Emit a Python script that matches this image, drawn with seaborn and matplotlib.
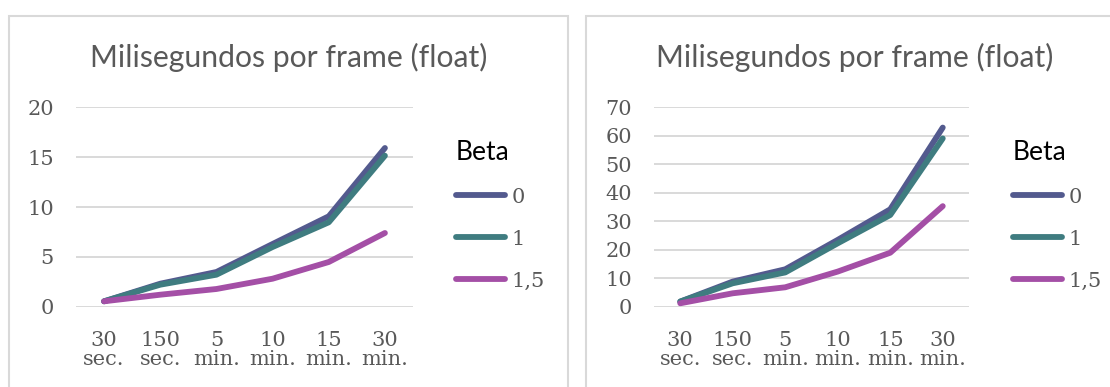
import matplotlib
matplotlib.use("Agg")
import matplotlib.pyplot as plt
from matplotlib.patches import Rectangle
from matplotlib.lines import Line2D
import seaborn as sns
import pandas as pd

# Categories along the x axis (recording length)
durations = ["30\nsec.", "150\nsec.", "5\nmin.", "10\nmin.", "15\nmin.", "30\nmin."]
beta_levels = ["0", "1", "1,5"]

# Milliseconds per frame, first chart
ms_left_beta0 = [0.57, 2.33, 3.5, 6.3, 9.07, 15.9]
ms_left_beta1 = [0.57, 2.23, 3.23, 6.0, 8.47, 15.13]
ms_left_beta15 = [0.57, 1.23, 1.8, 2.83, 4.5, 7.4]

# Milliseconds per frame, second chart
ms_right_beta0 = [1.9, 8.9, 13.2, 23.5, 34.2, 62.8]
ms_right_beta1 = [1.9, 8.3, 12.1, 22.3, 32.2, 59.0]
ms_right_beta15 = [1.3, 4.8, 6.9, 12.4, 19.0, 35.3]

chart_title = "Milisegundos por frame (float)"
legend_title = "Beta"

colors = {"0": "#535A8E", "1": "#3F7C80", "1,5": "#A44FA6"}
grid_color = "#D9D9D9"
text_gray = "#595959"
title_font = ["Lato", "DejaVu Sans"]
tick_font = ["DejaVu Serif"]
tick_size = 15


def long_form(series):
    rows = []
    for beta, values in zip(beta_levels, series):
        for d, v in zip(durations, values):
            rows.append({"Duración": d, "ms": v, "Beta": beta})
    return pd.DataFrame(rows)


sns.set_theme(style="white")
plt.rcParams["font.family"] = tick_font

W, H = 1110, 387
fig = plt.figure(figsize=(W / 100, H / 100), dpi=100)
fig.patch.set_facecolor("white")


def fx(px):
    return px / W


def fy(py):
    return 1 - py / H


# Chart frames
for x0, x1 in [(9, 568), (586, 1130)]:
    fig.add_artist(Rectangle((fx(x0), fy(420)), fx(x1 - x0), (420 - 16) / H,
                             transform=fig.transFigure, fill=False,
                             edgecolor=grid_color, linewidth=1.5, zorder=0))

panels = [
    dict(rect=[fx(76), fy(307), fx(413 - 76), 200 / H],
         data=[ms_left_beta0, ms_left_beta1, ms_left_beta15],
         ymax=20, step=5, title_x=289, legend_x=437),
    dict(rect=[fx(654), fy(307), fx(969 - 654), 200 / H],
         data=[ms_right_beta0, ms_right_beta1, ms_right_beta15],
         ymax=70, step=10, title_x=855, legend_x=994),
]

for p in panels:
    ax = fig.add_axes(p["rect"])
    df = long_form(p["data"])
    sns.lineplot(data=df, x="Duración", y="ms", hue="Beta", hue_order=beta_levels,
                 palette=colors, linewidth=4.2, sort=False, ax=ax, legend=False)
    for line in ax.get_lines():
        line.set_solid_capstyle("round")
        line.set_solid_joinstyle("round")
    ax.set_xlim(-0.5, len(durations) - 0.5)
    ax.set_ylim(0, p["ymax"])
    ax.set_yticks(range(0, p["ymax"] + 1, p["step"]))
    ax.set_xlabel("")
    ax.set_ylabel("")
    for s in ax.spines.values():
        s.set_visible(False)
    ax.yaxis.grid(True, color=grid_color, linewidth=1.4)
    ax.xaxis.grid(False)
    ax.set_axisbelow(True)
    ax.tick_params(axis="both", length=0, labelsize=tick_size, labelcolor=text_gray)
    ax.tick_params(axis="y", pad=16)
    ax.tick_params(axis="x", pad=17)
    for lab in ax.get_xticklabels():
        lab.set_linespacing(1.05)
    ax.patch.set_alpha(0)

    fig.text(fx(p["title_x"]), fy(67), chart_title, ha="center", va="baseline",
             fontsize=21.7, color=text_gray, family=title_font)

    handles = [Line2D([0], [0], color=colors[b], linewidth=4.2,
                      solid_capstyle="round") for b in beta_levels]
    leg = fig.legend(handles, beta_levels, loc="upper left",
                     bbox_to_anchor=(fx(p["legend_x"]), fy(121)),
                     frameon=False, fontsize=tick_size, handlelength=2.36,
                     handletextpad=0.3, labelspacing=1.1,
                     title=legend_title, alignment="left",
                     title_fontproperties={"family": title_font, "size": 19})
    leg.get_title().set_color("black")
    for t in leg.get_texts():
        t.set_color(text_gray)

fig.savefig("out.png", dpi=100)
